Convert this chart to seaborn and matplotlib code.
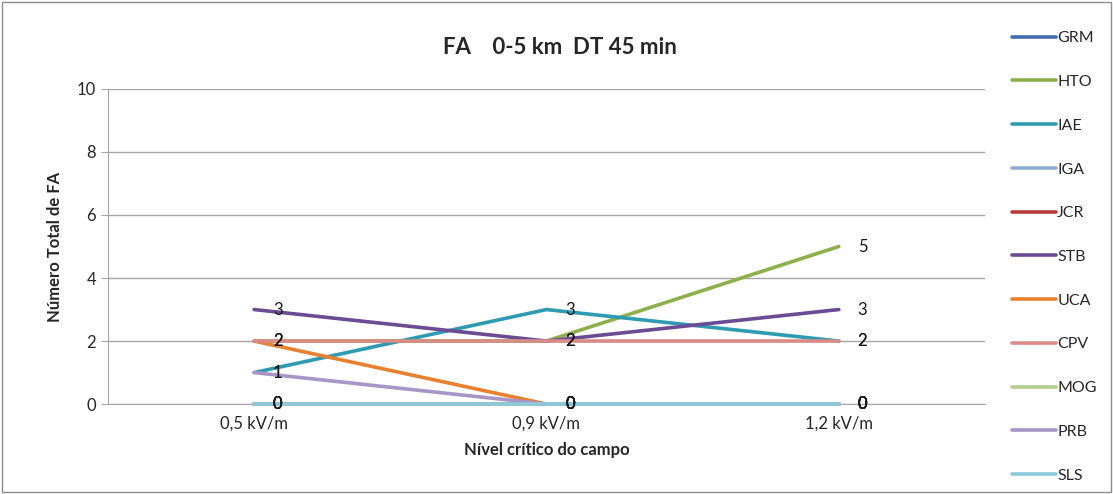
import matplotlib as mpl
import matplotlib.pyplot as plt
import seaborn as sns
import pandas as pd

# dados
niveis = ["0,5 kV/m", "0,9 kV/m", "1,2 kV/m"]
estacoes = ["GRM", "HTO", "IAE", "IGA", "JCR", "STB", "UCA", "CPV", "MOG", "PRB", "SLS"]
grm = [0, 0, 0]
hto = [2, 2, 5]
iae = [1, 3, 2]
iga = [0, 0, 0]
jcr = [0, 0, 0]
stb = [3, 2, 3]
uca = [2, 0, 0]
cpv = [2, 2, 2]
mog = [0, 0, 0]
prb = [1, 0, 0]
sls = [0, 0, 0]
cores = ["#3F6DB0", "#8DB04B", "#2F9BB3", "#93ACD6", "#B83A3A",
         "#6B4B94", "#E8812F", "#D98B88", "#B5CE8C", "#A895C5", "#8CC9DA"]

valores = [grm, hto, iae, iga, jcr, stb, uca, cpv, mog, prb, sls]
linhas = []
for est, vals in zip(estacoes, valores):
    for nv, v in zip(niveis, vals):
        linhas.append({"nivel": nv, "estacao": est, "FA": v})
df = pd.DataFrame(linhas)
paleta = dict(zip(estacoes, cores))

sns.set_style("white")
plt.rcParams["font.family"] = ["Lato", "DejaVu Sans"]

fig = plt.figure(figsize=(11.13, 4.94), dpi=100)
ax = fig.add_axes([0.097, 0.182, 0.788, 0.638])

sns.lineplot(data=df, x="nivel", y="FA", hue="estacao", hue_order=estacoes,
             palette=paleta, linewidth=2.6, sort=False, ax=ax, legend=True)
for ln in ax.lines:
    ln.set_clip_on(False)
    ln.set_zorder(3)
    ln.set_solid_capstyle("round")

# rótulos de dados
for est, vals in zip(estacoes, valores):
    for i, v in enumerate(vals):
        ax.annotate(str(v), (i, v), xytext=(17, 0), textcoords="offset points",
                    ha="center", va="center", fontsize=12, color="#1a1a1a", zorder=4)

ax.set_xlim(-0.5, 2.5)
ax.set_ylim(0, 10)
ax.set_yticks(range(0, 11, 2))
ax.yaxis.grid(True, color="#a6a6a6", linewidth=1)
ax.set_xticks([-0.5, 0.5, 1.5, 2.5], minor=True)
ax.tick_params(axis="x", which="minor", length=5, color="#a6a6a6", direction="out")
ax.tick_params(axis="x", which="major", length=0, labelsize=12, pad=8)
ax.tick_params(axis="y", length=5, color="#a6a6a6", labelsize=12, left=True)
for s in ["top", "right"]:
    ax.spines[s].set_visible(False)
for s in ["left", "bottom"]:
    ax.spines[s].set_color("#a6a6a6")

ax.set_xlabel("Nível crítico do campo", fontsize=12, fontweight="bold", labelpad=8)
ax.set_ylabel("Número Total de FA", fontsize=12, fontweight="bold", labelpad=10)
fig.text(0.503, 0.903, "FA    0-5 km  DT 45 min", ha="center", va="center",
         fontsize=16, fontweight="bold")

h, l = ax.get_legend_handles_labels()
ax.get_legend().remove()
fig.legend(h, l, loc="center left", bbox_to_anchor=(0.896, 0.48), frameon=False,
           fontsize=11.5, handlelength=2.75, handletextpad=0.1, labelspacing=1.85)

fig.patches.append(mpl.patches.Rectangle((0.002, 0.004), 0.996, 0.992, transform=fig.transFigure,
                                         fill=False, edgecolor="#8c8c8c", linewidth=1))

fig.savefig("out.png", dpi=100)
